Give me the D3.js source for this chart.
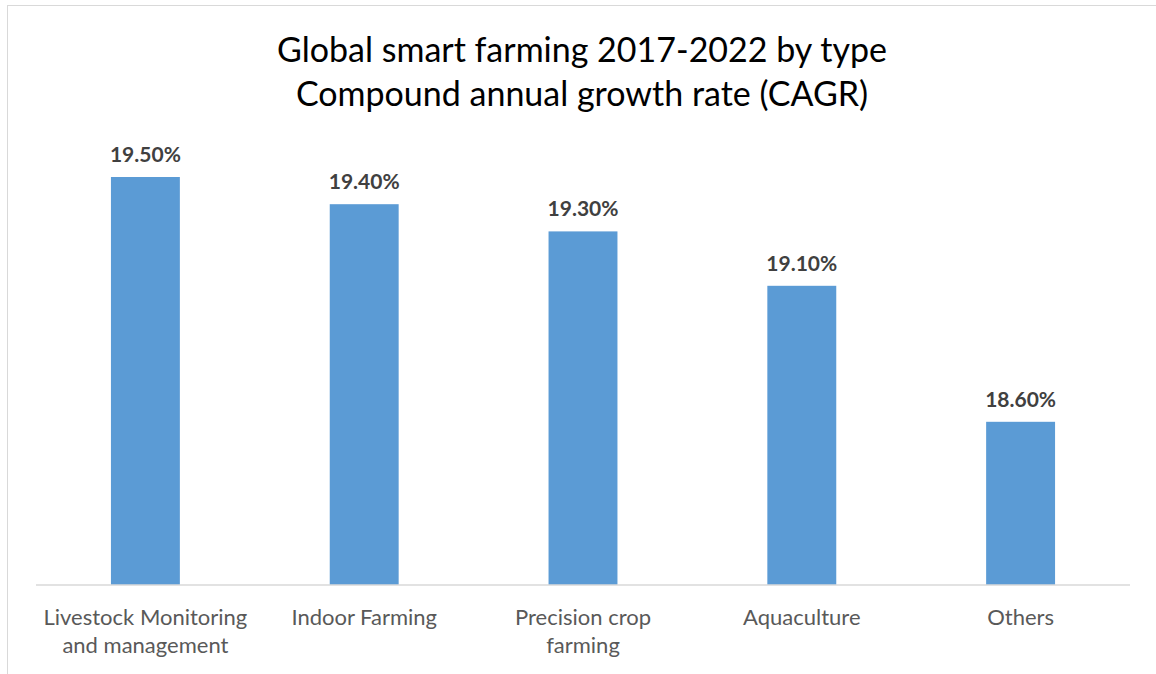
<!DOCTYPE html>
<html>
<head>
<meta charset="utf-8">
<script src="https://cdn.jsdelivr.net/npm/d3@7"></script>
<style>
  body { margin: 0; background: #fff; }
  svg { display: block; font-family: Lato, "Open Sans", sans-serif; }
</style>
</head>
<body>
<div id="chart"></div>
<script>
// data
const categories = ['Livestock', 'Indoor', 'Precision', 'Aquaculture', 'Others'];
const tickLabels = [
  ['Livestock Monitoring', 'and management'],
  ['Indoor Farming'],
  ['Precision crop', 'farming'],
  ['Aquaculture'],
  ['Others']
];
const cagr = [19.5, 19.4, 19.3, 19.1, 18.6];
const titleLines = ['Global smart farming 2017-2022 by type', 'Compound annual growth rate (CAGR)'];

/**
 * Draw the bar chart
 */
function createBarChart() {
  const SVG_WIDTH = 1156;
  const SVG_HEIGHT = 674;
  const PLOT = { left: 36, right: 1130, top: 41, bottom: 585 };

  const svg = d3.select('#chart').append('svg')
    .attr('width', SVG_WIDTH)
    .attr('height', SVG_HEIGHT);

  // frame
  svg.append('rect')
    .attr('x', 7.5)
    .attr('y', 5.5)
    .attr('width', SVG_WIDTH)
    .attr('height', SVG_HEIGHT)
    .attr('fill', 'none')
    .attr('stroke', '#d9d9d9')
    .attr('stroke-width', 1);

  // title
  svg.append('text')
    .attr('x', 582)
    .attr('text-anchor', 'middle')
    .attr('font-size', 34)
    .attr('fill', '#000')
    .selectAll('tspan')
    .data(titleLines)
    .join('tspan')
      .attr('x', 582)
      .attr('y', (_, i) => 62 + i * 44)
      .text(d => d);

  // scales
  const x = d3.scaleBand()
    .domain(categories)
    .range([PLOT.left, PLOT.right])
    .paddingInner(0.685)
    .paddingOuter(0.3425);
  const y = d3.scaleLinear()
    .domain([18, 20])
    .range([PLOT.bottom, PLOT.top]);

  const data = categories.map((c, i) => ({ cat: c, value: cagr[i], lines: tickLabels[i] }));

  // bars
  svg.append('g')
    .selectAll('rect')
    .data(data)
    .join('rect')
      .attr('x', d => x(d.cat))
      .attr('y', d => y(d.value))
      .attr('width', x.bandwidth())
      .attr('height', d => y(18) - y(d.value))
      .attr('fill', '#5b9bd5');

  // value labels
  svg.append('g')
    .selectAll('text')
    .data(data)
    .join('text')
      .attr('x', d => x(d.cat) + x.bandwidth() / 2)
      .attr('y', d => y(d.value) - 15)
      .attr('text-anchor', 'middle')
      .attr('font-size', 21)
      .attr('font-weight', 'bold')
      .attr('fill', '#404040')
      .text(d => d.value.toFixed(2) + '%');

  // x axis
  const xAxis = svg.append('g')
    .attr('transform', `translate(0,${PLOT.bottom})`)
    .call(d3.axisBottom(x).tickSize(0).tickFormat(''))
    .attr('font-family', null)
    .attr('font-size', 22);
  xAxis.select('.domain')
    .attr('stroke', '#d9d9d9')
    .attr('stroke-width', 1.5)
    .attr('d', `M${PLOT.left},0H${PLOT.right}`);

  xAxis.selectAll('.tick text').remove();
  xAxis.selectAll('.tick')
    .data(data)
    .append('text')
      .attr('text-anchor', 'middle')
      .attr('fill', '#595959')
      .selectAll('tspan')
      .data(d => d.lines)
      .join('tspan')
        .attr('x', 0)
        .attr('y', (_, i) => 40 + i * 28)
        .text(d => d);
}

(function main() {
  createBarChart();
})();
</script>
</body>
</html>
